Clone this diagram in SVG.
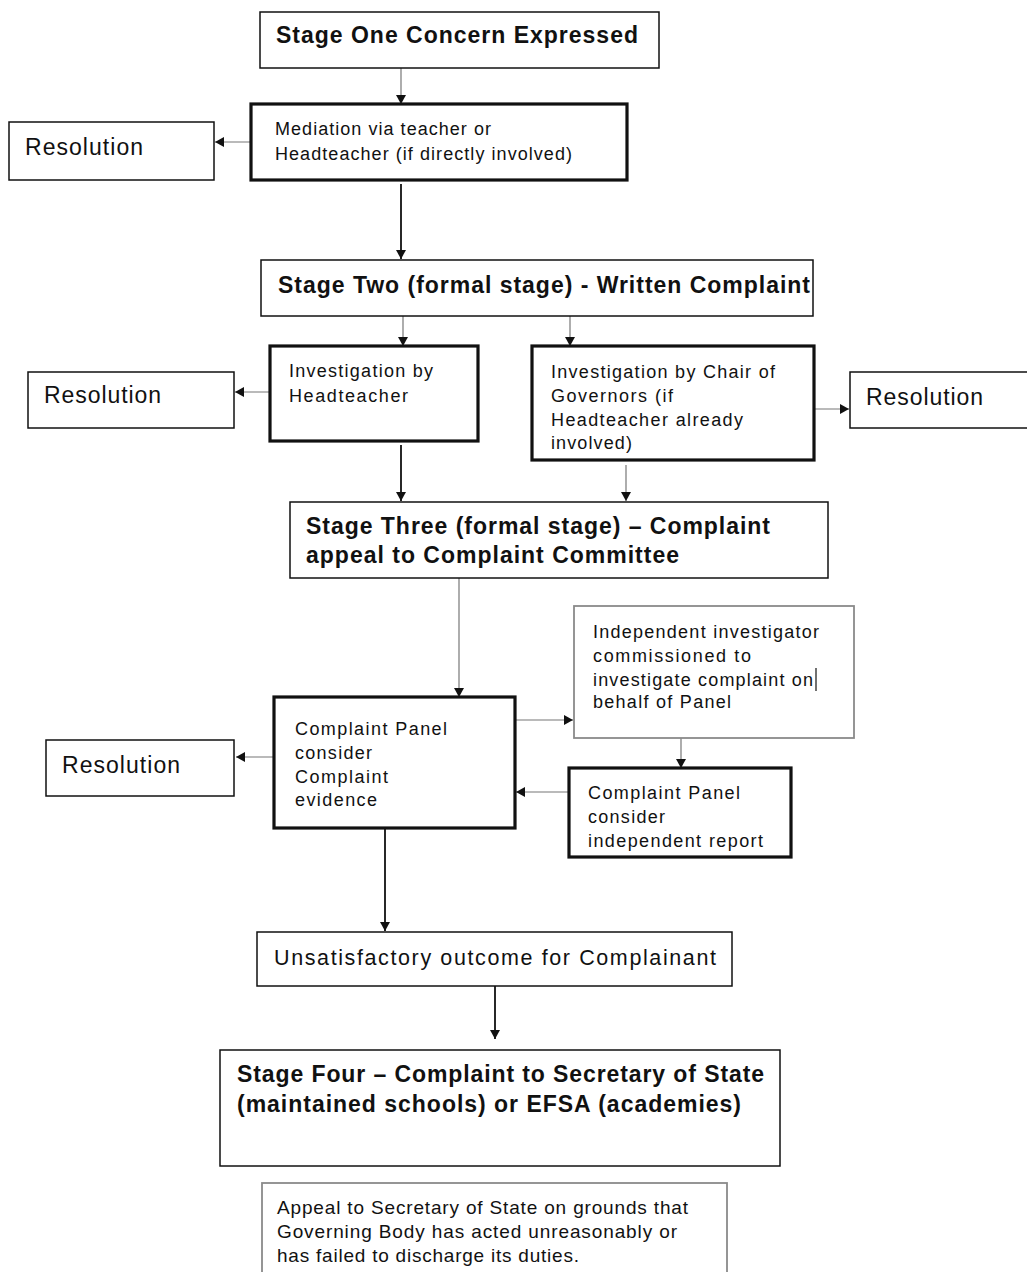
<svg xmlns="http://www.w3.org/2000/svg" width="1027" height="1272" viewBox="0 0 1027 1272">
<style>
text{font-family:"Liberation Sans",Arial,sans-serif;fill:#111}
.h{font-weight:bold;font-size:23px}
.m{font-size:18px}
.r{font-size:23px}
.u{font-size:21.5px}
.p{font-size:19px}
.b{fill:#fff;stroke:#111;stroke-width:1.5}
.k{fill:#fff;stroke:#111;stroke-width:3.2}
.g{fill:#fff;stroke:#8a8a8a;stroke-width:1.8}
.cg{stroke:#777;stroke-width:1.2;fill:none}
.cb{stroke:#111;stroke-width:1.8;fill:none}
</style>
<defs>
<marker id="a" markerUnits="userSpaceOnUse" markerWidth="9" markerHeight="10" refX="9" refY="5" orient="auto">
<path d="M0,0 L9,5 L0,10 z" fill="#111"/>
</marker>
</defs>
<rect width="1027" height="1272" fill="#fff"/>
<g id="connectors">
<line class="cg" x1="401" y1="68" x2="401" y2="104" marker-end="url(#a)"/>
<line class="cg" x1="251" y1="142" x2="215" y2="142" marker-end="url(#a)"/>
<line class="cb" x1="401" y1="184" x2="401" y2="259" marker-end="url(#a)"/>
<line class="cg" x1="403" y1="316" x2="403" y2="346" marker-end="url(#a)"/>
<line class="cg" x1="570" y1="316" x2="570" y2="346" marker-end="url(#a)"/>
<line class="cg" x1="270" y1="392" x2="235" y2="392" marker-end="url(#a)"/>
<line class="cg" x1="814" y1="409" x2="849" y2="409" marker-end="url(#a)"/>
<line class="cb" x1="401" y1="445" x2="401" y2="501" marker-end="url(#a)"/>
<line class="cg" x1="626" y1="465" x2="626" y2="501" marker-end="url(#a)"/>
<line class="cg" x1="459" y1="578" x2="459" y2="697" marker-end="url(#a)"/>
<line class="cg" x1="515" y1="720" x2="573" y2="720" marker-end="url(#a)"/>
<line class="cg" x1="274" y1="757" x2="236" y2="757" marker-end="url(#a)"/>
<line class="cg" x1="681" y1="738" x2="681" y2="768" marker-end="url(#a)"/>
<line class="cg" x1="569" y1="792" x2="516" y2="792" marker-end="url(#a)"/>
<line class="cb" x1="385" y1="828" x2="385" y2="931" marker-end="url(#a)"/>
<line class="cb" x1="495" y1="984" x2="495" y2="1039" marker-end="url(#a)"/>
</g>
<g id="stage1">
<rect class="b" x="260" y="12" width="399" height="56"/>
<text class="h" x="276" y="43" textLength="362">Stage One Concern Expressed</text>
</g>
<g id="mediation">
<rect class="k" x="251" y="104" width="376" height="76"/>
<text class="m" x="275" y="135" textLength="216">Mediation via teacher or</text>
<text class="m" x="275" y="160" textLength="297">Headteacher (if directly involved)</text>
</g>
<g id="resolution1">
<rect class="b" x="9" y="122" width="205" height="58"/>
<text class="r" x="25" y="155" textLength="118">Resolution</text>
</g>
<g id="stage2">
<rect class="b" x="261" y="260" width="552" height="56"/>
<text class="h" x="278" y="293" textLength="532">Stage Two (formal stage) - Written Complaint</text>
</g>
<g id="invHead">
<rect class="k" x="270" y="346" width="208" height="95"/>
<text class="m" x="289" y="377" textLength="144">Investigation by</text>
<text class="m" x="289" y="402" textLength="119">Headteacher</text>
</g>
<g id="invChair">
<rect class="k" x="532" y="346" width="282" height="114"/>
<text class="m" x="551" y="378" textLength="224">Investigation by Chair of</text>
<text class="m" x="551" y="402" textLength="122">Governors (if</text>
<text class="m" x="551" y="426" textLength="192">Headteacher already</text>
<text class="m" x="551" y="449" textLength="81">involved)</text>
</g>
<g id="resolution2">
<rect class="b" x="28" y="372" width="206" height="56"/>
<text class="r" x="44" y="403" textLength="117">Resolution</text>
</g>
<g id="resolution3">
<rect class="b" x="850" y="372" width="190" height="56"/>
<text class="r" x="866" y="405" textLength="117">Resolution</text>
</g>
<g id="stage3">
<rect class="b" x="290" y="502" width="538" height="76"/>
<text class="h" x="306" y="534" textLength="464">Stage Three (formal stage) – Complaint</text>
<text class="h" x="306" y="563" textLength="373">appeal to Complaint Committee</text>
</g>
<g id="independent">
<rect class="g" x="574" y="606" width="280" height="132"/>
<text class="m" x="593" y="638" textLength="226">Independent investigator</text>
<text class="m" x="593" y="662" textLength="158">commissioned to</text>
<text class="m" x="593" y="686" textLength="220">investigate complaint on</text>
<text class="m" x="593" y="708" textLength="138">behalf of Panel</text>
<line x1="816" y1="668" x2="816" y2="691" stroke="#111" stroke-width="1.2"/>
</g>
<g id="panel">
<rect class="k" x="274" y="697" width="241" height="131"/>
<text class="m" x="295" y="735" textLength="152">Complaint Panel</text>
<text class="m" x="295" y="759" textLength="77">consider</text>
<text class="m" x="295" y="783" textLength="93">Complaint</text>
<text class="m" x="295" y="806" textLength="82">evidence</text>
</g>
<g id="resolution4">
<rect class="b" x="46" y="740" width="188" height="56"/>
<text class="r" x="62" y="773" textLength="118">Resolution</text>
</g>
<g id="panelReport">
<rect class="k" x="569" y="768" width="222" height="89"/>
<text class="m" x="588" y="799" textLength="152">Complaint Panel</text>
<text class="m" x="588" y="823" textLength="77">consider</text>
<text class="m" x="588" y="847" textLength="175">independent report</text>
</g>
<g id="unsatisfactory">
<rect class="b" x="257" y="932" width="475" height="54"/>
<text class="u" x="274" y="965" textLength="442">Unsatisfactory outcome for Complainant</text>
</g>
<g id="stage4">
<rect class="b" x="220" y="1050" width="560" height="116"/>
<text class="h" x="237" y="1082" textLength="527">Stage Four – Complaint to Secretary of State</text>
<text class="h" x="237" y="1112" textLength="504">(maintained schools) or EFSA (academies)</text>
</g>
<g id="appeal">
<rect class="g" x="262" y="1183" width="465" height="110"/>
<text class="p" x="277" y="1214" textLength="411">Appeal to Secretary of State on grounds that</text>
<text class="p" x="277" y="1238" textLength="400">Governing Body has acted unreasonably or</text>
<text class="p" x="277" y="1262" textLength="302">has failed to discharge its duties.</text>
</g>
</svg>
